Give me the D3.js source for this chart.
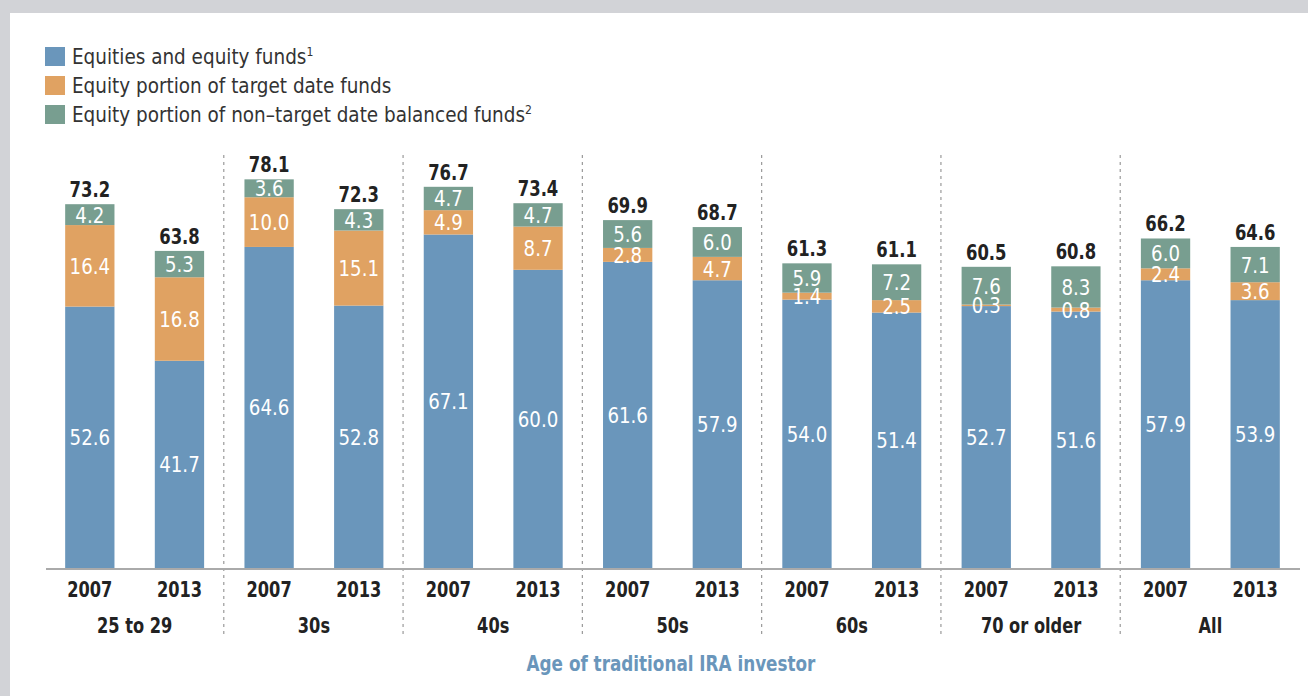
<html>
<head>
<script src="https://d3js.org/d3.v7.min.js"></script>
<style>
  body { margin: 0; background: #d2d3d7; }
  svg text { font-family: "DejaVu Sans Condensed", "DejaVu Sans", sans-serif; }
</style>
</head>
<body>
<svg id="chart" width="1308" height="696"></svg>
<script>
// data
var groups = ["25 to 29", "30s", "40s", "50s", "60s", "70 or older", "All"];
var years = ["2007", "2013"];
var equities2007 = [52.6, 64.6, 67.1, 61.6, 54.0, 52.7, 57.9];
var equities2013 = [41.7, 52.8, 60.0, 57.9, 51.4, 51.6, 53.9];
var targetDate2007 = [16.4, 10.0, 4.9, 2.8, 1.4, 0.3, 2.4];
var targetDate2013 = [16.8, 15.1, 8.7, 4.7, 2.5, 0.8, 3.6];
var balanced2007 = [4.2, 3.6, 4.7, 5.6, 5.9, 7.6, 6.0];
var balanced2013 = [5.3, 4.3, 4.7, 6.0, 7.2, 8.3, 7.1];
var totals2007 = [73.2, 78.1, 76.7, 69.9, 61.3, 60.5, 66.2];
var totals2013 = [63.8, 72.3, 73.4, 68.7, 61.1, 60.8, 64.6];
var seriesNames = ["Equities and equity funds", "Equity portion of target date funds", "Equity portion of non\u2013target date balanced funds"];
var footnotes = ["1", "", "2"];
var colors = ["#6a96bb", "#e0a262", "#789e90"];

var svg = d3.select("#chart");

// narrow text: squeeze horizontally to get the condensed look
function label(sel, x, y, s) {
  return sel.append("text").attr("transform", "translate(" + x + "," + y + ") scale(" + s + ",1)");
}

// white panel
svg.append("rect").attr("x", 10).attr("y", 13).attr("width", 1298).attr("height", 683).attr("fill", "#fff");

var rows = [];
groups.forEach(function (g, i) {
  rows.push({group: g, year: "2007", vals: [equities2007[i], targetDate2007[i], balanced2007[i]], total: totals2007[i]});
  rows.push({group: g, year: "2013", vals: [equities2013[i], targetDate2013[i], balanced2013[i]], total: totals2013[i]});
});

var baseY = 568;
var x0 = d3.scaleBand().domain(groups).range([45, 1300]).padding(0);
var x1 = d3.scaleBand().domain(years).range([0, x0.bandwidth()]).paddingInner(0.45).paddingOuter(0.225);
var y = d3.scaleLinear().domain([0, 80]).range([baseY, baseY - 80 * 4.97]);

// dashed separators between age groups
svg.selectAll(".sep").data(groups.slice(1)).enter().append("line")
  .attr("x1", function (d) { return x0(d) - 0.5; })
  .attr("x2", function (d) { return x0(d) - 0.5; })
  .attr("y1", 155).attr("y2", 634)
  .attr("stroke", "#9a9a9a").attr("stroke-width", 1.2).attr("stroke-dasharray", "3,4");

var bars = svg.selectAll(".bar").data(rows).enter().append("g")
  .attr("transform", function (d) { return "translate(" + (x0(d.group) + x1(d.year)) + ",0)"; });

bars.each(function (d) {
  var g = d3.select(this);
  var w = x1.bandwidth();
  var cum = 0;
  d.vals.forEach(function (v, k) {
    var y0 = y(cum), yTop = y(cum + v);
    g.append("rect").attr("x", 0).attr("width", w)
      .attr("y", yTop).attr("height", y0 - yTop).attr("fill", colors[k]);
    cum += v;
  });
  cum = 0;
  d.vals.forEach(function (v, k) {
    var mid = (y(cum) + y(cum + v)) / 2;
    label(g, w / 2, mid + 8, 0.92)
      .attr("text-anchor", "middle").attr("fill", "#fff").attr("font-size", 22)
      .text(v.toFixed(1));
    cum += v;
  });
  label(g, w / 2, y(cum) - 7, 0.83)
    .attr("text-anchor", "middle").attr("fill", "#222").attr("font-size", 22).attr("font-weight", "bold")
    .text(d.total.toFixed(1));
  label(g, w / 2, 597, 0.82)
    .attr("text-anchor", "middle").attr("fill", "#222").attr("font-size", 22).attr("font-weight", "bold")
    .text(d.year);
});

// baseline
svg.append("line").attr("x1", 46).attr("x2", 1300).attr("y1", baseY + 1).attr("y2", baseY + 1)
  .attr("stroke", "#aaa").attr("stroke-width", 2);

// group labels
groups.forEach(function (d) {
  label(svg, x0(d) + x0.bandwidth() / 2, 633, 0.82)
    .attr("text-anchor", "middle").attr("fill", "#222")
    .attr("font-size", 22).attr("font-weight", "bold").text(d);
});

// axis title
label(svg, 671, 671, 0.85).attr("text-anchor", "middle")
  .attr("fill", "#6a96bb").attr("font-size", 22).attr("font-weight", "bold")
  .text("Age of traditional IRA investor");

// legend
seriesNames.forEach(function (d, i) {
  var row = svg.append("g").attr("transform", "translate(45," + (47 + i * 29) + ")");
  row.append("rect").attr("width", 20).attr("height", 19).attr("fill", colors[i]);
  var t = label(row, 27, 17, 0.93).attr("fill", "#333").attr("font-size", 22);
  t.append("tspan").text(d);
  t.append("tspan").attr("font-size", 13).attr("dy", -8).text(footnotes[i]);
});
</script>
</body>
</html>
